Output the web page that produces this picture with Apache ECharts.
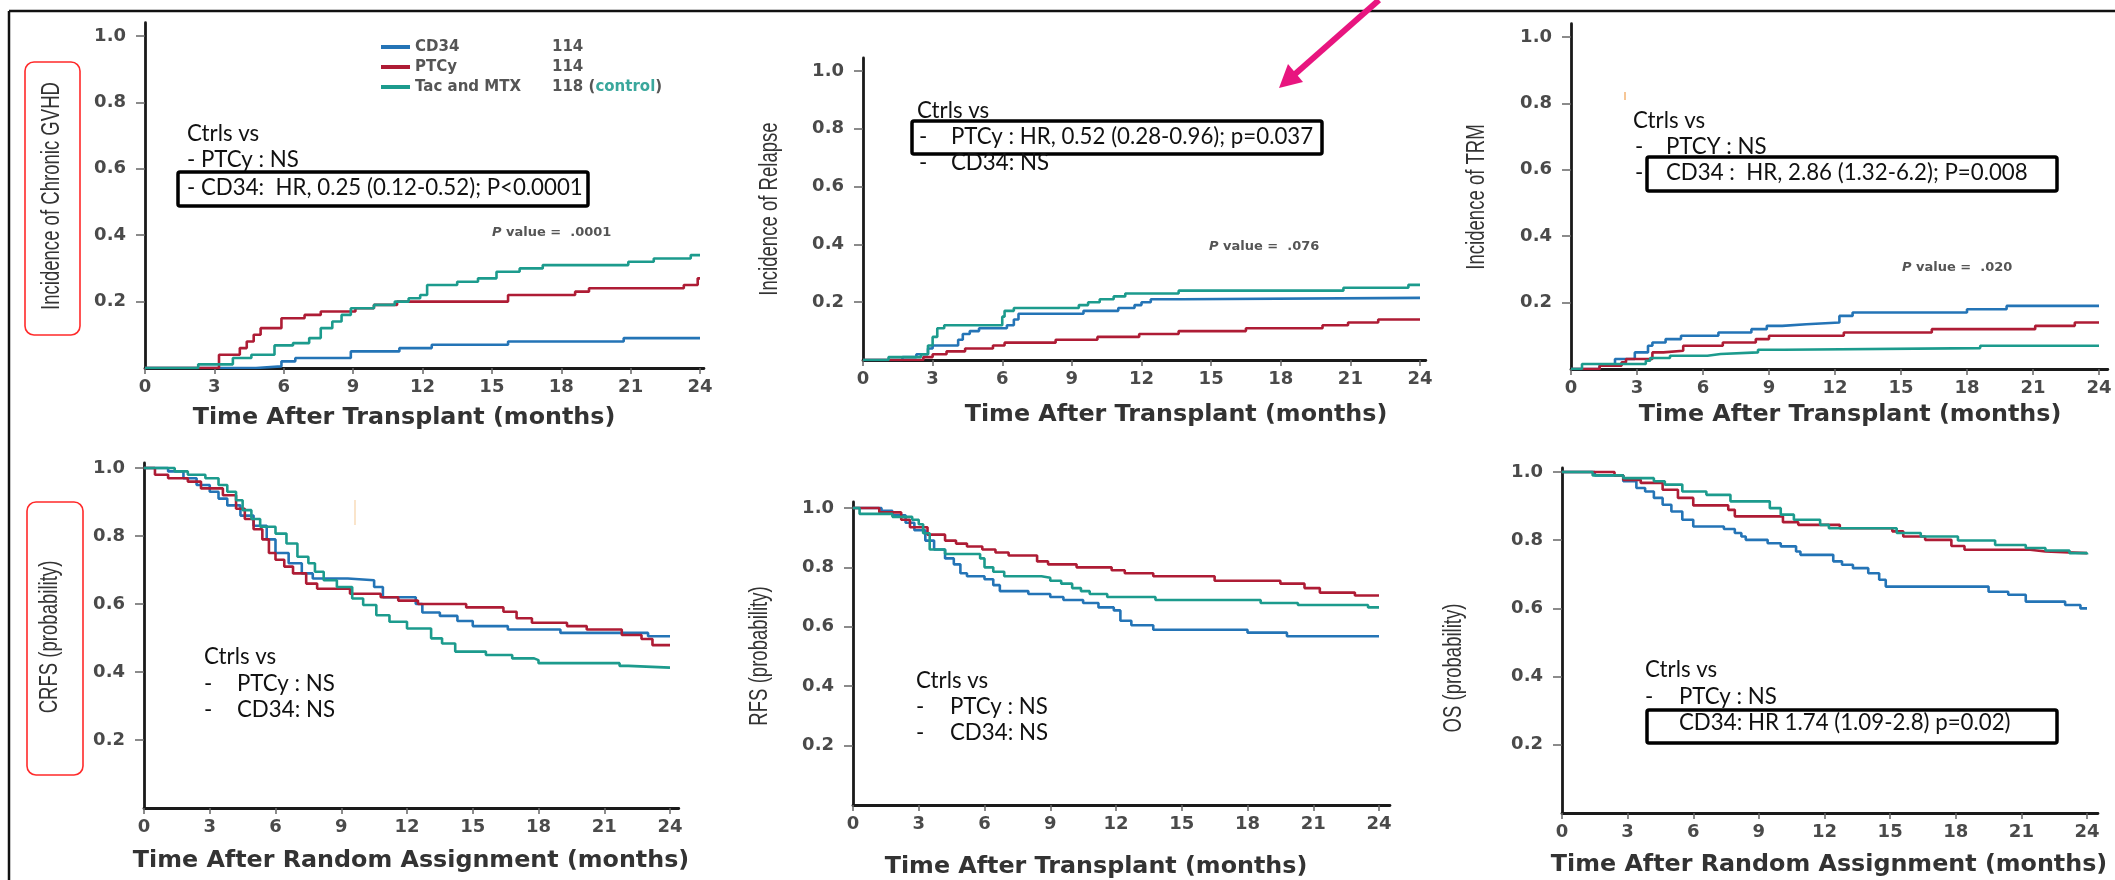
<!DOCTYPE html>
<html><head><meta charset="utf-8">
<script src="https://cdn.jsdelivr.net/npm/echarts@6.0.0/dist/echarts.min.js"></script>
<style>html,body{margin:0;padding:0;background:#fff}#c{width:2115px;height:880px}</style>
</head><body><div id="c"></div>
<script>
// ---------- data ----------
const xTicks = [0, 3, 6, 9, 12, 15, 18, 21, 24];
const yTicks = [0.2, 0.4, 0.6, 0.8, 1.0];
const groupNames = ['CD34', 'PTCy', 'Tac and MTX'];
const groupCounts = [114, 114, 118];

// Chronic GVHD incidence
const gvhdCD34 = [[0,0],[4.8,0.005],[5.9,0.02],[6.5,0.03],[8.9,0.05],[11,0.06],[12.4,0.07],[15.7,0.08],[20.7,0.09],[24,0.09]];
const gvhdPTCy = [[0,0],[3.2,0.04],[4.1,0.06],[4.4,0.08],[4.7,0.1],[5.0,0.12],[5.9,0.15],[6.9,0.16],[7.6,0.17],[9.1,0.18],[9.9,0.19],[10.9,0.2],[15.7,0.22],[18.6,0.23],[19.2,0.24],[23.3,0.25],[23.9,0.27],[24,0.27]];
const gvhdCtrl = [[0,0],[2.3,0.011],[3.8,0.03],[4.6,0.04],[5.6,0.068],[6.4,0.075],[7.1,0.09],[7.6,0.12],[8.1,0.14],[8.5,0.16],[8.9,0.18],[9.9,0.19],[10.8,0.2],[11.4,0.21],[11.9,0.22],[12.2,0.25],[13.5,0.26],[14.4,0.27],[15.2,0.29],[16.2,0.3],[17.2,0.31],[20.9,0.32],[22,0.33],[23.6,0.34],[24,0.34]];

// Relapse incidence
const relCD34 = [[0,0],[1.7,0.01],[2.3,0.02],[2.8,0.04],[3.0,0.05],[4.1,0.07],[4.3,0.09],[4.6,0.1],[5.0,0.11],[6.2,0.12],[6.5,0.14],[6.7,0.16],[9.5,0.17],[11.0,0.18],[11.7,0.19],[12.0,0.2],[12.4,0.21],[13.7,0.215],[24,0.215]];
const relPTCy = [[0,0],[2.6,0.01],[3.0,0.02],[3.6,0.03],[4.4,0.04],[5.6,0.05],[6.1,0.06],[8.3,0.07],[10.1,0.08],[11.9,0.09],[13.6,0.1],[16.5,0.11],[19.8,0.12],[20.9,0.13],[22.2,0.14],[24,0.14]];
const relCtrl = [[0,0],[1.1,0.01],[2.5,0.02],[2.8,0.05],[3.0,0.08],[3.2,0.11],[3.5,0.12],[6.0,0.15],[6.1,0.17],[6.5,0.18],[9.3,0.19],[9.7,0.2],[10.2,0.21],[10.8,0.22],[11.3,0.23],[13.6,0.24],[20.7,0.25],[23.5,0.26],[24,0.26]];

// TRM incidence
const trmCD34 = [[0,0],[0.5,0],[1.3,0.01],[2.0,0.03],[2.9,0.05],[3.5,0.07],[3.7,0.08],[4.3,0.09],[5.0,0.1],[6.7,0.11],[8.2,0.12],[8.9,0.13],[9.6,0.135],[10.7,0.14],[12.2,0.16],[12.8,0.17],[18.0,0.18],[19.8,0.19],[24,0.19]];
const trmPTCy = [[0,0],[1.3,0.01],[2.3,0.02],[2.5,0.03],[3.7,0.05],[4.2,0.055],[5.1,0.07],[6.9,0.08],[8.4,0.09],[9.0,0.1],[12.4,0.11],[16.4,0.12],[21.1,0.13],[22.9,0.14],[24,0.14]];
const trmCtrl = [[0,0],[0.5,0.015],[3.4,0.025],[3.6,0.033],[4.5,0.04],[6.2,0.045],[6.8,0.05],[8.5,0.058],[9.7,0.063],[18.6,0.07],[24,0.07]];

// CRFS probability
const crfsCD34 = [[0,1],[1.1,0.99],[1.8,0.97],[2.4,0.95],[3.0,0.93],[3.4,0.91],[3.8,0.89],[4.4,0.86],[5.0,0.83],[5.6,0.79],[6.0,0.75],[6.6,0.72],[7.2,0.69],[7.7,0.675],[9.3,0.67],[10.5,0.65],[10.9,0.62],[12.4,0.6],[12.7,0.575],[13.5,0.565],[14.3,0.55],[15.0,0.535],[16.6,0.525],[19.0,0.515],[23.0,0.505],[24,0.505]];
const crfsPTCy = [[0,1],[0.5,0.98],[1.1,0.97],[2.0,0.96],[2.6,0.94],[3.6,0.92],[4.2,0.88],[4.6,0.85],[5.0,0.82],[5.4,0.79],[5.7,0.75],[6.0,0.73],[6.4,0.71],[6.8,0.69],[7.4,0.66],[7.9,0.645],[9.4,0.63],[10.8,0.62],[11.6,0.61],[12.5,0.6],[14.7,0.59],[16.4,0.577],[17.0,0.558],[17.7,0.545],[19.3,0.535],[20.2,0.525],[21.8,0.509],[22.7,0.497],[23.2,0.479],[24,0.479]];
const crfsCtrl = [[0,1],[1.4,0.99],[2.0,0.98],[2.8,0.97],[3.4,0.95],[3.8,0.93],[4.2,0.905],[4.5,0.876],[4.9,0.85],[5.3,0.827],[6.0,0.807],[6.5,0.778],[7.0,0.739],[7.5,0.72],[7.8,0.695],[8.2,0.67],[8.8,0.65],[9.5,0.616],[10.0,0.597],[10.6,0.567],[11.2,0.548],[12.0,0.528],[13.1,0.499],[13.6,0.484],[14.2,0.46],[15.6,0.45],[16.8,0.44],[17.8,0.435],[18.0,0.426],[21.7,0.418],[22.1,0.413],[24,0.413]];

// RFS probability
const rfsCD34 = [[0,1],[1.3,0.99],[1.8,0.975],[2.4,0.95],[2.8,0.925],[3.3,0.89],[3.7,0.86],[4.2,0.83],[4.6,0.81],[4.9,0.78],[5.2,0.77],[6.0,0.76],[6.4,0.74],[6.7,0.72],[8.0,0.71],[9.0,0.7],[9.6,0.69],[10.5,0.68],[11.2,0.665],[11.9,0.655],[12.2,0.62],[12.7,0.605],[13.7,0.59],[18.0,0.58],[19.8,0.568],[24,0.568]];
const rfsPTCy = [[0,1],[1.2,0.985],[2.2,0.96],[2.6,0.935],[3.4,0.91],[4.2,0.89],[4.7,0.88],[5.2,0.87],[5.9,0.86],[6.5,0.85],[7.1,0.84],[8.4,0.82],[8.9,0.81],[10.2,0.8],[11.8,0.79],[12.4,0.78],[13.7,0.77],[16.5,0.755],[19.5,0.745],[20.6,0.73],[21.3,0.715],[22.9,0.705],[24,0.705]];
const rfsCtrl = [[0,1],[0.3,0.98],[1.8,0.97],[2.7,0.96],[3.0,0.945],[3.2,0.915],[3.5,0.86],[4.2,0.845],[5.8,0.83],[6.0,0.8],[6.4,0.785],[6.9,0.77],[8.6,0.765],[9.0,0.755],[9.5,0.745],[10.0,0.73],[10.4,0.72],[10.8,0.71],[11.6,0.7],[13.8,0.69],[18.6,0.68],[20.3,0.673],[23.5,0.665],[24,0.665]];

// OS probability
const osCD34 = [[0,1],[1.5,0.99],[2.8,0.973],[3.4,0.953],[3.8,0.943],[4.2,0.924],[4.6,0.904],[5.0,0.884],[5.5,0.86],[6.0,0.84],[7.4,0.833],[7.9,0.821],[8.2,0.811],[8.4,0.801],[9.4,0.791],[10.0,0.782],[10.7,0.767],[10.9,0.757],[12.4,0.738],[12.8,0.728],[13.3,0.718],[14.0,0.703],[14.5,0.684],[14.8,0.664],[19.5,0.649],[20.4,0.64],[21.2,0.62],[23.0,0.61],[23.7,0.6],[24,0.6]];
const osPTCy = [[0,1],[2.4,0.99],[2.8,0.977],[3.6,0.968],[4.6,0.948],[5.3,0.924],[6.0,0.902],[7.6,0.889],[7.9,0.87],[10.1,0.853],[10.8,0.845],[12.7,0.835],[15.1,0.826],[15.6,0.811],[16.6,0.801],[17.8,0.783],[18.4,0.772],[21.4,0.767],[22.1,0.762],[24,0.762]];
const osCtrl = [[0,1],[1.4,0.99],[2.8,0.982],[4.2,0.973],[4.7,0.963],[5.5,0.943],[6.6,0.933],[7.7,0.914],[9.5,0.894],[10.0,0.875],[10.6,0.86],[11.8,0.845],[12.2,0.835],[15.3,0.821],[16.4,0.811],[18.1,0.799],[19.8,0.786],[21.2,0.777],[22.1,0.77],[23.2,0.762],[24,0.758]];

// ---------- styling ----------
const COLORS = ['#2474b6', '#ae1c35', '#1c9b8d'];
const TICK_FONT = "'DejaVu Sans', Verdana, sans-serif";
const TITLE_FONT = "'DejaVu Sans', Verdana, sans-serif";
const YTITLE_FONT = "'Liberation Sans', Arial, sans-serif";
const NOTE_FONT = "Lato, 'Open Sans', 'Noto Sans', sans-serif";
const TICK_SIZE = 18;
const YT_SIZE = 26;

const mctx = document.createElement('canvas').getContext('2d');
function measure(text, family, weight, size) {
  mctx.font = 'normal ' + weight + ' ' + size + 'px ' + family;
  return mctx.measureText(text).width;
}
const titleSize = 100 * 423 / measure('Time After Transplant (months)', TITLE_FONT, 'bold', 100);
const noteSize = 100 * 396 / measure('- CD34:  HR, 0.25 (0.12-0.52); P<0.0001', NOTE_FONT, 'normal', 100);
// condensed y-axis titles: horizontal squeeze so the long title spans 228px
const ytScale = 228 / measure('Incidence of Chronic GVHD', YTITLE_FONT, 'normal', YT_SIZE);

const panels = [
  {x0:145, x24:700, y0:368, y1:36, xMax:24.17, yMax:1.04, xName:'Time After Transplant (months)', xc:404, xcy:418, yName:'Incidence of Chronic GVHD', yc:196, ycx:52, data:[gvhdCD34, gvhdPTCy, gvhdCtrl]},
  {x0:863, x24:1420, y0:360, y1:71, xMax:24.25, yMax:1.045, xName:'Time After Transplant (months)', xc:1176, xcy:415, yName:'Incidence of Relapse', yc:209, ycx:770, data:[relCD34, relPTCy, relCtrl]},
  {x0:1571, x24:2099, y0:369, y1:37, xMax:24.4, yMax:1.04, xName:'Time After Transplant (months)', xc:1850, xcy:415, yName:'Incidence of TRM', yc:197, ycx:1477, data:[trmCD34, trmPTCy, trmCtrl]},
  {x0:144, x24:670, y0:808, y1:468, xMax:24.4, yMax:1.015, xName:'Time After Random Assignment (months)', xc:411, xcy:861, yName:'CRFS (probability)', yc:637, ycx:50, data:[crfsCD34, crfsPTCy, crfsCtrl]},
  {x0:853, x24:1379, y0:808, y1:508, xMax:24.5, yMax:1.02, xName:'Time After Transplant (months)', xc:1096, xcy:870, yName:'RFS (probability)', yc:656, ycx:760, data:[rfsCD34, rfsPTCy, rfsCtrl]},
  {x0:1562, x24:2087, y0:813, y1:472, xMax:24.5, yMax:1.012, xName:'Time After Random Assignment (months)', xc:1829, xcy:865, yName:'OS (probability)', yc:668, ycx:1454, data:[osCD34, osPTCy, osCtrl]}
];

const G = [];
const grid = [], xAxis = [], yAxis = [], series = [];
panels.forEach((p, i) => {
  const pxM = (p.x24 - p.x0) / 24, pxV = p.y0 - p.y1;
  const L = p.x0, W = pxM * p.xMax, H = pxV * p.yMax, T = p.y0 - H;
  grid.push({left: L, top: T, width: W, height: H});
  const dx = p.xc - (L + W / 2);
  xAxis.push({
    gridIndex: i, type: 'value', min: 0, max: p.xMax,
    axisLine: {show: true, onZero: false, lineStyle: {color: '#1a1a1a', width: 2.8}},
    axisTick: {show: true, customValues: xTicks, length: 6, lineStyle: {color: '#666', width: 1.5}},
    axisLabel: {customValues: xTicks, margin: 10, fontFamily: TICK_FONT, fontWeight: 'bold', fontSize: TICK_SIZE, color: '#4a4a4a'},
    splitLine: {show: false},
    name: p.xName, nameLocation: 'middle', nameGap: (p.xcy - p.y0) - titleSize / 2,
    nameTextStyle: {fontFamily: TITLE_FONT, fontWeight: 'bold', fontSize: titleSize, color: '#333',
      padding: dx > 0 ? [0, 0, 0, 2 * dx] : [0, -2 * dx, 0, 0]}
  });
  yAxis.push({
    gridIndex: i, type: 'value', min: 0, max: p.yMax,
    axisLine: {show: true, onZero: false, lineStyle: {color: '#1a1a1a', width: 2.8}},
    axisTick: {show: true, customValues: yTicks, length: 9, lineStyle: {color: '#666', width: 1.5}},
    axisLabel: {customValues: yTicks, margin: 19, fontFamily: TICK_FONT, fontWeight: 'bold', fontSize: TICK_SIZE, color: '#4a4a4a',
      formatter: v => v.toFixed(1)},
    splitLine: {show: false}
  });
  // y-axis title (condensed, reading bottom-to-top)
  G.push({type: 'text', x: p.ycx, y: p.yc, rotation: Math.PI / 2, scaleX: ytScale, silent: true,
    style: {text: p.yName, fill: '#333', font: 'normal normal ' + YT_SIZE + 'px ' + YTITLE_FONT,
      align: 'center', verticalAlign: 'middle'}});
  p.data.forEach((d, k) => {
    series.push({
      type: 'line', name: groupNames[k], xAxisIndex: i, yAxisIndex: i, data: d,
      step: 'end', showSymbol: false, symbol: 'none', silent: true,
      lineStyle: {width: 2.6, color: COLORS[k]}, itemStyle: {color: COLORS[k]}
    });
  });
});

// ---------- annotations ----------
function txt(x, y, s) {
  G.push({type: 'text', x: x, y: y, silent: true,
    style: {text: s, fill: '#111', font: 'normal normal ' + noteSize.toFixed(2) + 'px ' + NOTE_FONT,
      align: 'left', verticalAlign: 'middle'}});
}
function box(x1, y1, x2, y2) {
  G.push({type: 'rect', silent: true, shape: {x: x1, y: y1, width: x2 - x1, height: y2 - y1, r: 2},
    style: {fill: 'none', stroke: '#000', lineWidth: 3.5}});
}
function pval(x, y, v) {
  G.push({type: 'text', x: x, y: y, silent: true,
    style: {text: '{i|P} value =  ' + v, fill: '#555', font: 'normal bold 13px ' + TICK_FONT,
      align: 'left', verticalAlign: 'middle',
      rich: {i: {fontStyle: 'italic', fontWeight: 'bold', fontSize: 13, fontFamily: TICK_FONT, fill: '#555'}}}});
}
// frame
G.push({type: 'line', silent: true, shape: {x1: 9, y1: 11, x2: 2115, y2: 11}, style: {stroke: '#111', lineWidth: 2.5}});
G.push({type: 'line', silent: true, shape: {x1: 9, y1: 11, x2: 9, y2: 880}, style: {stroke: '#111', lineWidth: 2.5}});
// red rounded boxes around y titles
G.push({type: 'rect', silent: true, shape: {x: 25, y: 62, width: 55, height: 273, r: 9}, style: {fill: 'none', stroke: '#ff2a2a', lineWidth: 1.6}});
G.push({type: 'rect', silent: true, shape: {x: 27, y: 502, width: 56, height: 273, r: 9}, style: {fill: 'none', stroke: '#ff2a2a', lineWidth: 1.6}});

// panel 1
txt(187, 134, 'Ctrls vs');
txt(187, 160, '- PTCy : NS');
box(178, 172, 588, 206);
txt(187, 188, '- CD34:  HR, 0.25 (0.12-0.52); P<0.0001');
pval(492, 233, '.0001');
// panel 2
txt(917, 111, 'Ctrls vs');
box(912, 121, 1322, 154);
txt(919, 137, '-'); txt(951, 137, 'PTCy : HR, 0.52 (0.28-0.96); p=0.037');
txt(919, 163, '-'); txt(951, 163, 'CD34: NS');
pval(1209, 247, '.076');
// panel 3
txt(1633, 121, 'Ctrls vs');
txt(1635, 147, '-'); txt(1666, 147, 'PTCY : NS');
txt(1635, 173, '-');
box(1647, 157, 2057, 191);
txt(1666, 173, 'CD34 :  HR, 2.86 (1.32-6.2); P=0.008');
pval(1902, 268, '.020');
G.push({type: 'line', silent: true, shape: {x1: 1625, y1: 92, x2: 1625, y2: 100}, style: {stroke: '#f0a050', lineWidth: 1.2}});
// panel 4
txt(204, 657, 'Ctrls vs');
txt(204, 684, '-'); txt(237, 684, 'PTCy : NS');
txt(204, 710, '-'); txt(237, 710, 'CD34: NS');
G.push({type: 'line', silent: true, shape: {x1: 355, y1: 500, x2: 355, y2: 525}, style: {stroke: '#f7d3a8', lineWidth: 1.2}});
// panel 5
txt(916, 681, 'Ctrls vs');
txt(916, 707, '-'); txt(950, 707, 'PTCy : NS');
txt(916, 733, '-'); txt(950, 733, 'CD34: NS');
// panel 6
txt(1645, 670, 'Ctrls vs');
txt(1645, 697, '-'); txt(1679, 697, 'PTCy : NS');
box(1647, 710, 2057, 743);
txt(1679, 723, 'CD34: HR 1.74 (1.09-2.8) p=0.02)');
// pink arrow
G.push({type: 'line', silent: true, shape: {x1: 1379, y1: 0, x2: 1294, y2: 75}, style: {stroke: '#e8157f', lineWidth: 6}});
G.push({type: 'polygon', silent: true, shape: {points: [[1279, 88], [1303, 82], [1288, 64]]}, style: {fill: '#e8157f'}});

const chart = echarts.init(document.getElementById('c'), null, {renderer: 'canvas'});
chart.setOption({
  animation: false,
  backgroundColor: '#fff',
  grid, xAxis, yAxis, series,
  legend: {
    data: groupNames, orient: 'vertical', left: 381, top: 39, padding: 0,
    itemWidth: 29, itemHeight: 4, itemGap: 4, icon: 'rect', selectedMode: false,
    formatter: name => {
      const k = groupNames.indexOf(name);
      return k === 2 ? '{n|' + name + '}{c|' + groupCounts[k] + ' (}{t|control}{c|)}' : '{n|' + name + '}{c|' + groupCounts[k] + '}';
    },
    textStyle: {lineHeight: 16, rich: {
      n: {width: 137, fontFamily: TICK_FONT, fontWeight: 'bold', fontSize: 15, color: '#555'},
      c: {fontFamily: TICK_FONT, fontWeight: 'bold', fontSize: 15, color: '#555'},
      t: {fontFamily: TICK_FONT, fontWeight: 'bold', fontSize: 15, color: '#3aa79c'}
    }}
  },
  graphic: {elements: G}
});
</script>
</body></html>
